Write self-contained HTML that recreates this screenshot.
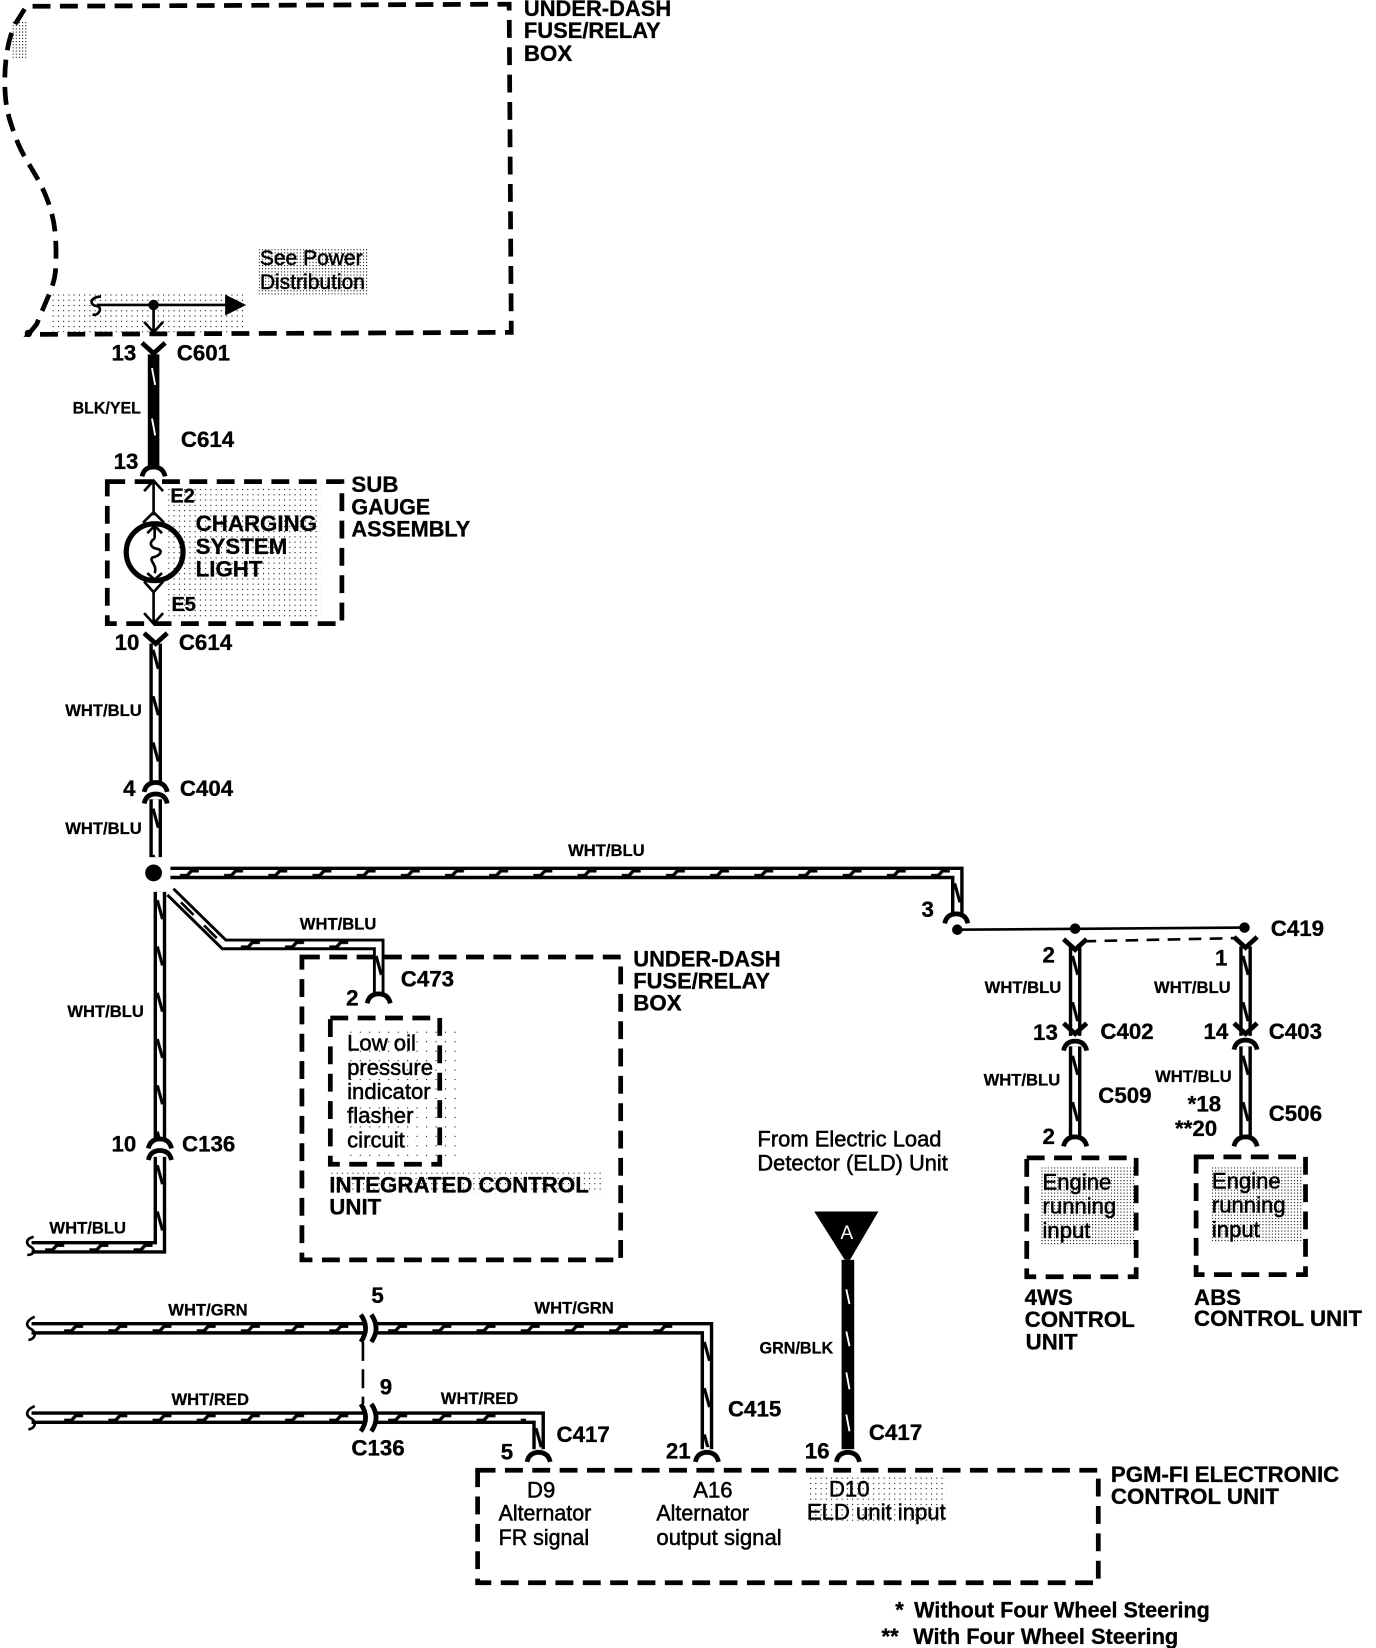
<!DOCTYPE html>
<html><head><meta charset="utf-8"><title>Charging system wiring diagram</title>
<style>
html,body{margin:0;padding:0;background:#fff;width:1376px;height:1648px;overflow:hidden}
svg{display:block}
text{font-family:"Liberation Sans",sans-serif;fill:#000;font-weight:bold;font-size:21.2px;stroke:#000;stroke-width:.3px}
.s{font-size:15.8px;stroke-width:.25px}
.r{font-weight:normal;font-size:21px;stroke:#000;stroke-width:.5px}
.f{font-size:20.8px}
.b{fill:none;stroke:#000;stroke-width:4.5;stroke-dasharray:17 9}
.o{fill:none;stroke:#000;stroke-width:12}
.i{fill:none;stroke:#fff;stroke-width:5.5}
.w{fill:none;stroke:#fff;stroke-width:1.8}
.l{fill:none;stroke:#000;stroke-width:2.5}
.c{fill:none;stroke:#000;stroke-width:4.5}
</style></head><body>
<svg width="1376" height="1648" viewBox="0 0 1308 1567" preserveAspectRatio="none" xmlns="http://www.w3.org/2000/svg">
<defs>
<pattern id="d" width="3" height="3" patternUnits="userSpaceOnUse"><rect width="1" height="1" fill="#000"/></pattern>
<pattern id="e" width="5" height="5" patternUnits="userSpaceOnUse"><rect width="1" height="1" fill="#000"/></pattern>
<pattern id="g" width="9" height="9" patternUnits="userSpaceOnUse"><rect width="1" height="1" fill="#000"/></pattern>
<pattern id="h" width="42" height="8" patternUnits="userSpaceOnUse"><path d="M3 6.5H10L14 2H21" fill="none" stroke="#000" stroke-width="3.2"/></pattern>
<pattern id="v" width="8" height="44" patternUnits="userSpaceOnUse"><path d="M1.5 4L6.5 22" fill="none" stroke="#000" stroke-width="3"/></pattern>
<path id="n" d="M-11 6Q-9 -3 0 -3Q9 -3 11 6"/>
<path id="y" d="M-11 -7L0 3L11 -7"/>
</defs>
<rect width="1308" height="1567" fill="#fff"/>

<!-- stipple -->
<g fill="url(#e)">
<rect x="50" y="280" width="182" height="36"/>
<rect x="160" y="465" width="145" height="125"/>
<rect x="770" y="1402" width="130" height="46"/>
<rect x="314" y="1115" width="260" height="20"/>
</g>
<rect x="330" y="975" width="110" height="130" fill="url(#g)"/>
<g fill="url(#d)">
<rect x="12" y="20" width="14" height="36"/>
<rect x="246" y="236" width="104" height="44"/>
<rect x="990" y="1110" width="88" height="75"/>
<rect x="1152" y="1110" width="86" height="72"/>
</g>

<!-- dashed boxes -->
<path class="b" d="M27 318L35 308C46 280 53 270 53 252C54 225 52 208 45 190C37 168 25 155 17 136C9 115 6 105 5 90C3 60 8 35 15 22L25 6L484 4L486 316L27 318Z"/>
<circle cx="27" cy="317" r="3.5"/>
<rect class="b" x="102" y="458" width="223" height="135"/>
<rect class="b" x="287" y="910" width="303" height="288"/>
<rect class="b" x="314" y="968" width="104" height="139"/>
<rect class="b" x="976" y="1101" width="104" height="113"/>
<rect class="b" x="1137" y="1100" width="104" height="112"/>
<rect class="b" x="454" y="1398" width="590" height="107"/>

<!-- top internal -->
<path class="l" d="M92 290H220M146 290V316M137 306L146 316L155 306M96 282C86 282 84 290 92 291C98 292 94 301 88 299"/>
<path d="M214 280L234 290L214 300Z"/><circle cx="146" cy="290" r="5"/>

<!-- BLK/YEL -->
<path fill="none" stroke="#000" stroke-width="11" d="M146 337V444"/>
<path class="w" d="M144.5 350L147.5 366M144.5 398L147.5 414"/>
<use href="#y" class="c" transform="translate(146,333)"/>
<use href="#n" class="c" transform="translate(146,447)"/>

<!-- bulb -->
<circle cx="147" cy="525" r="27" fill="none" stroke="#000" stroke-width="5"/>
<path class="l" d="M146 458V490M137 467L146 457L155 467M136 497L146 487L156 497M147 500V512M140 507L147 500L154 507M147 512C141 516 143 521 150 522C156 524 151 529 145 530C141 533 150 537 147 545M140 545L147 551L154 545M137 553L146 563L155 553M146 563V592M137 583L146 593L155 583"/>

<!-- wire C614 - C404 - node -->
<path class="o" d="M148 612V744M148 760V815"/><path class="i" d="M148 612V744M148 760V815"/>
<rect x="0" y="0" width="8" height="128" fill="url(#v)" transform="translate(144,614)"/>
<rect x="0" y="0" width="8" height="50" fill="url(#v)" transform="translate(144,765)"/>
<use href="#y" class="c" transform="translate(148,609)"/>
<use href="#n" class="c" transform="translate(148,747)"/>
<use href="#n" class="c" transform="translate(148,758)"/>
<circle cx="146" cy="830" r="8"/>

<!-- wire down left -->
<path class="o" d="M152 848V1085M152 1100V1186H30"/><path class="i" d="M152 848V1085M152 1100V1186H30"/>
<rect x="0" y="0" width="8" height="232" fill="url(#v)" transform="translate(148,852)"/>
<rect x="0" y="0" width="8" height="76" fill="url(#v)" transform="translate(148,1104)"/>
<rect x="0" y="0" width="108" height="8" fill="url(#h)" transform="translate(40,1182)"/>
<use href="#n" class="c" transform="translate(152,1086)"/>
<use href="#n" class="c" transform="translate(152,1097)"/>
<path class="l" stroke-width="3" d="M32 1176C24 1178 24 1183 30 1186C35 1190 30 1194 26 1193"/>

<!-- long wire -->
<path class="o" d="M162 830H910V868"/><path class="i" d="M162 830H910V868"/>
<rect x="0" y="0" width="735" height="8" fill="url(#h)" transform="translate(168,826)"/>
<rect x="0" y="0" width="8" height="34" fill="url(#v)" transform="translate(906,836)"/>
<use href="#n" class="c" transform="translate(909,872)"/>
<path class="l" stroke-width="3.5" d="M910 884L1183 882"/>
<circle cx="910" cy="884" r="5"/><circle cx="1022" cy="883" r="5"/><circle cx="1183" cy="882" r="5"/>
<path fill="none" stroke="#000" stroke-width="2.5" stroke-dasharray="12 8" d="M1030 895L1176 892"/>

<!-- branch -->
<path class="o" d="M162 848L213 898H360V945" style="stroke-width:11"/><path class="i" d="M162 848L213 898H360V945" style="stroke-width:5.5"/>
<rect x="0" y="0" width="126" height="8" fill="url(#h)" transform="translate(226,894)"/>
<rect x="0" y="0" width="8" height="40" fill="url(#v)" transform="translate(356,905)"/>
<path fill="none" stroke="#000" stroke-width="2.5" d="M172 858L184 870M194 880L206 892"/>
<use href="#n" class="c" transform="translate(360,948)"/>

<!-- right wires -->
<path class="o" d="M1022 900V985M1022 995V1082M1184 900V985M1184 995V1082"/>
<path class="i" d="M1022 900V985M1022 995V1082M1184 900V985M1184 995V1082"/>
<rect x="0" y="0" width="8" height="78" fill="url(#v)" transform="translate(1018,905)"/>
<rect x="0" y="0" width="8" height="80" fill="url(#v)" transform="translate(1018,1000)"/>
<rect x="0" y="0" width="8" height="78" fill="url(#v)" transform="translate(1180,905)"/>
<rect x="0" y="0" width="8" height="80" fill="url(#v)" transform="translate(1180,1000)"/>
<use href="#y" class="c" transform="translate(1022,900)"/>
<use href="#y" class="c" transform="translate(1184,898)"/>
<use href="#y" class="c" transform="translate(1022,980)"/>
<use href="#y" class="c" transform="translate(1184,980)"/>
<use href="#n" class="c" transform="translate(1022,993)"/>
<use href="#n" class="c" transform="translate(1184,992)"/>
<use href="#n" class="c" transform="translate(1022,1084)"/>
<use href="#n" class="c" transform="translate(1184,1084)"/>

<!-- lower wires -->
<path class="o" d="M30 1263H346M358 1263H672V1378M30 1348H346M358 1348H512V1378"/>
<path class="i" d="M30 1263H346M358 1263H672V1378M30 1348H346M358 1348H512V1378"/>
<rect x="0" y="0" width="285" height="8" fill="url(#h)" transform="translate(58,1259)"/>
<rect x="0" y="0" width="296" height="8" fill="url(#h)" transform="translate(366,1259)"/>
<rect x="0" y="0" width="285" height="8" fill="url(#h)" transform="translate(58,1344)"/>
<rect x="0" y="0" width="134" height="8" fill="url(#h)" transform="translate(366,1344)"/>
<rect x="0" y="0" width="8" height="104" fill="url(#v)" transform="translate(668,1272)"/>
<rect x="0" y="0" width="8" height="24" fill="url(#v)" transform="translate(508,1354)"/>
<path class="c" d="M343 1250Q352 1263 343 1276M353 1250Q362 1263 353 1276M343 1335Q352 1348 343 1361M353 1335Q362 1348 353 1361"/>
<path fill="none" stroke="#000" stroke-width="2.5" stroke-dasharray="18 8" d="M345 1276V1335"/>
<path class="l" stroke-width="3" d="M33 1252C24 1256 24 1261 30 1264C36 1268 32 1274 27 1274M33 1337C24 1341 24 1346 30 1349C36 1353 32 1359 27 1359"/>
<use href="#n" class="c" transform="translate(512,1384)"/>
<use href="#n" class="c" transform="translate(672,1384)"/>

<!-- A -->
<path d="M774 1152H835L808 1198H803Z"/>
<text x="805" y="1178" text-anchor="middle" style="fill:#fff;stroke:none;font-weight:normal;font-size:18px">A</text>
<path fill="none" stroke="#000" stroke-width="12" d="M806 1198V1378"/>
<path class="w" d="M804.5 1226L807.5 1240M804.5 1266L807.5 1280M804.5 1305L807.5 1321M804.5 1345L807.5 1361"/>
<use href="#n" class="c" transform="translate(806,1384)"/>

<!-- labels -->
<text x="498" y="15" textLength="140" lengthAdjust="spacingAndGlyphs">UNDER-DASH</text><text x="498" y="36" textLength="130" lengthAdjust="spacingAndGlyphs">FUSE/RELAY</text><text x="498" y="58">BOX</text>
<text class="r" x="247" y="252" style="font-size:20px">See Power</text><text class="r" x="247" y="275" style="font-size:20px">Distribution</text>
<text x="106" y="343">13</text><text x="168" y="343">C601</text>
<text class="s" x="69" y="393" textLength="65" lengthAdjust="spacingAndGlyphs">BLK/YEL</text>
<text x="172" y="425">C614</text><text x="108" y="446">13</text>
<text x="334" y="468">SUB</text><text x="334" y="489" textLength="75" lengthAdjust="spacingAndGlyphs">GAUGE</text><text x="334" y="510" textLength="113" lengthAdjust="spacingAndGlyphs">ASSEMBLY</text>
<text x="162" y="478" style="font-size:19px">E2</text><text x="163" y="581" style="font-size:19px">E5</text>
<text x="186" y="505">CHARGING</text><text x="186" y="527">SYSTEM</text><text x="186" y="548">LIGHT</text>
<text x="109" y="618">10</text><text x="170" y="618">C614</text>
<text class="s" x="62" y="681">WHT/BLU</text>
<text x="117" y="757">4</text><text x="171" y="757">C404</text>
<text class="s" x="62" y="793">WHT/BLU</text>
<text class="s" x="540" y="814">WHT/BLU</text>
<text class="s" x="285" y="884">WHT/BLU</text>
<text x="381" y="938">C473</text><text x="329" y="956">2</text>
<text x="602" y="919" textLength="140" lengthAdjust="spacingAndGlyphs">UNDER-DASH</text><text x="602" y="940" textLength="130" lengthAdjust="spacingAndGlyphs">FUSE/RELAY</text><text x="602" y="961">BOX</text>
<text class="s" x="64" y="967">WHT/BLU</text>
<text class="r" x="330" y="999">Low oil</text><text class="r" x="330" y="1022">pressure</text><text class="r" x="330" y="1045">indicator</text><text class="r" x="330" y="1068">flasher</text><text class="r" x="330" y="1091">circuit</text>
<text x="313" y="1134">INTEGRATED CONTROL</text><text x="313" y="1155">UNIT</text>
<text x="106" y="1095">10</text><text x="173" y="1095">C136</text>
<text class="s" x="47" y="1173">WHT/BLU</text>
<text x="876" y="872">3</text>
<text x="1208" y="890">C419</text>
<text x="991" y="915">2</text><text x="1155" y="918">1</text>
<text class="s" x="936" y="944">WHT/BLU</text><text class="s" x="1097" y="944">WHT/BLU</text>
<text x="982" y="989">13</text><text x="1046" y="988">C402</text><text x="1144" y="988">14</text><text x="1206" y="988">C403</text>
<text class="s" x="935" y="1032">WHT/BLU</text><text class="s" x="1098" y="1029">WHT/BLU</text>
<text x="1044" y="1049">C509</text>
<text x="1129" y="1057">*18</text><text x="1117" y="1080">**20</text>
<text x="1206" y="1066">C506</text>
<text x="991" y="1088">2</text>
<text class="r" x="720" y="1090" textLength="175" lengthAdjust="spacingAndGlyphs">From Electric Load</text><text class="r" x="720" y="1113" textLength="181" lengthAdjust="spacingAndGlyphs">Detector (ELD) Unit</text>
<text class="r" x="991" y="1131">Engine</text><text class="r" x="991" y="1154">running</text><text class="r" x="991" y="1177">input</text>
<text class="r" x="1152" y="1130">Engine</text><text class="r" x="1152" y="1153">running</text><text class="r" x="1152" y="1176">input</text>
<text x="974" y="1241">4WS</text><text x="974" y="1262">CONTROL</text><text x="975" y="1283">UNIT</text>
<text x="1135" y="1241">ABS</text><text x="1135" y="1261">CONTROL UNIT</text>
<text x="353" y="1239">5</text><text x="361" y="1326">9</text>
<text class="s" x="160" y="1251">WHT/GRN</text><text class="s" x="508" y="1249">WHT/GRN</text>
<text class="s" x="163" y="1336">WHT/RED</text><text class="s" x="419" y="1335">WHT/RED</text>
<text class="s" x="722" y="1287" textLength="70" lengthAdjust="spacingAndGlyphs">GRN/BLK</text>
<text x="334" y="1384">C136</text><text x="529" y="1371">C417</text><text x="476" y="1388">5</text>
<text x="633" y="1387">21</text><text x="692" y="1347">C415</text><text x="765" y="1387">16</text><text x="826" y="1369">C417</text>
<text x="1056" y="1409" textLength="217" lengthAdjust="spacingAndGlyphs">PGM-FI ELECTRONIC</text><text x="1056" y="1430">CONTROL UNIT</text>
<text class="r" x="501" y="1424">D9</text><text class="r" x="474" y="1446" textLength="88" lengthAdjust="spacingAndGlyphs">Alternator</text><text class="r" x="474" y="1469" textLength="86" lengthAdjust="spacingAndGlyphs">FR signal</text>
<text class="r" x="659" y="1424">A16</text><text class="r" x="624" y="1446" textLength="88" lengthAdjust="spacingAndGlyphs">Alternator</text><text class="r" x="624" y="1469" textLength="119" lengthAdjust="spacingAndGlyphs">output signal</text>
<text class="r" x="788" y="1423">D10</text><text class="r" x="767" y="1445" textLength="132" lengthAdjust="spacingAndGlyphs">ELD unit input</text>
<text class="f" x="851" y="1538">*</text><text class="f" x="869" y="1538" textLength="281" lengthAdjust="spacingAndGlyphs">Without Four Wheel Steering</text>
<text class="f" x="838" y="1563">**</text><text class="f" x="868" y="1563" textLength="252" lengthAdjust="spacingAndGlyphs">With Four Wheel Steering</text>
</svg>
</body></html>
